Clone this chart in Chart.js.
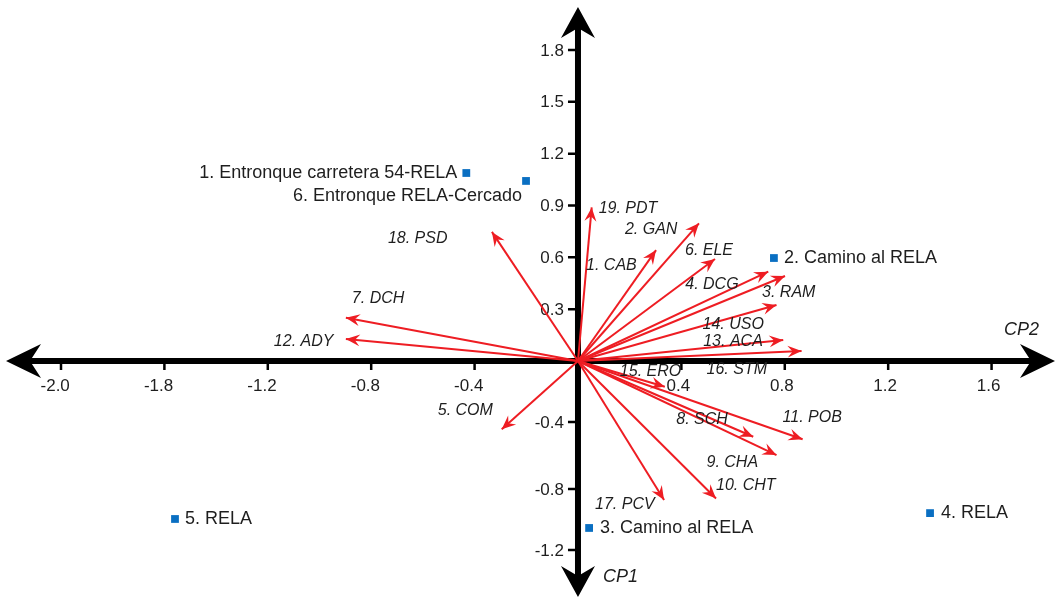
<!DOCTYPE html>
<html>
<head>
<meta charset="utf-8">
<script src="https://cdn.jsdelivr.net/npm/chart.js@4.4.1/dist/chart.umd.min.js"></script>
<style>
  html, body { margin: 0; padding: 0; background: #fff; }
  #wrap { width: 1058px; height: 599px; }
</style>
</head>
<body>
<div id="wrap"><canvas id="biplot"></canvas></div>
<script>
// sites (blue squares)
const siteNames = ["1. Entronque carretera 54-RELA", "6. Entronque RELA-Cercado", "2. Camino al RELA", "3. Camino al RELA", "4. RELA", "5. RELA"];
const siteX = [-0.432, -0.201, 0.758, 0.043, 1.362, -1.559];
const siteY = [1.088, 1.042, 0.596, -0.966, -0.880, -0.914];

// variables (red vectors)
const varNames = ["19. PDT", "2. GAN", "1. CAB", "6. ELE", "4. DCG", "3. RAM", "14. USO", "13. ACA", "16. STM", "15. ERO",
  "8. SCH", "11. POB", "9. CHA", "10. CHT", "17. PCV", "7. DCH", "12. ADY", "5. COM", "18. PSD"];
const varX = [0.053, 0.468, 0.302, 0.530, 0.736, 0.801, 0.768, 0.794, 0.865, 0.336,
  0.678, 0.869, 0.768, 0.534, 0.333, -0.898, -0.898, -0.295, -0.333];
const varY = [0.889, 0.797, 0.642, 0.590, 0.517, 0.492, 0.324, 0.122, 0.058, -0.149,
  -0.438, -0.453, -0.544, -0.795, -0.804, 0.251, 0.127, -0.395, 0.747];

// axis ticks (labels as printed in the original)
const xTickValues = [-2.0, -1.6, -1.2, -0.8, -0.4, 0.4, 0.8, 1.2, 1.6];
const xTickLabels = ["-2.0", "-1.8", "-1.2", "-0.8", "-0.4", "0.4", "0.8", "1.2", "1.6"];
const yTickValues = [-1.094, -0.741, -0.353, 0.3, 0.6, 0.9, 1.2, 1.5, 1.8];
const yTickLabels = ["-1.2", "-0.8", "-0.4", "0.3", "0.6", "0.9", "1.2", "1.5", "1.8"];

// label placement, pixel offsets from the mark
const siteLabelPos = [[-9, 0, "right"], [-4, 15, "right"], [10, 0, "left"], [11, 0, "left"], [11, 0, "left"], [10, 0, "left"]];
const varLabelPos = [[7, 1], [-74, 6], [-70, 15], [-30, -9], [-83, 13], [-23, 17], [-74, 20], [-80, 2], [-95, 19], [-45, -15],
  [-77, -17], [-20, -22], [-70, 8], [0, -13], [-69, 5], [6, -19], [-72, 2], [-64, -19], [-104, 7]];

const RED = "#ee1d23";
const BLUE = "#0a6fc2";
const TEXT = "#1e1e1e";

function stealth(ctx, tipX, tipY, angle, len, half, notch) {
  ctx.save();
  ctx.translate(tipX, tipY);
  ctx.rotate(angle);
  ctx.beginPath();
  ctx.moveTo(0, 0);
  ctx.lineTo(-len, -half);
  ctx.lineTo(-notch, 0);
  ctx.lineTo(-len, half);
  ctx.closePath();
  ctx.fill();
  ctx.restore();
}

const biplotPlugin = {
  id: "biplot",
  beforeDatasetsDraw(chart) {
    const { ctx, chartArea: a, scales: { x, y } } = chart;
    const ox = x.getPixelForValue(0);
    const oy = y.getPixelForValue(0);
    ctx.save();
    ctx.fillStyle = "#000";
    ctx.strokeStyle = "#000";
    ctx.lineWidth = 6;
    ctx.beginPath();
    ctx.moveTo(a.left + 25, oy);
    ctx.lineTo(a.right - 25, oy);
    ctx.moveTo(ox, a.top + 22);
    ctx.lineTo(ox, a.bottom - 22);
    ctx.stroke();
    stealth(ctx, a.left + 6, oy, Math.PI, 35, 17, 24);
    stealth(ctx, a.right - 3, oy, 0, 35, 17, 24);
    stealth(ctx, ox, a.top + 7, -Math.PI / 2, 31, 17, 21);
    stealth(ctx, ox, a.bottom - 2, Math.PI / 2, 31, 17, 21);

    // tick marks
    ctx.lineWidth = 2.5;
    ctx.beginPath();
    xTickValues.forEach((v) => {
      const px = x.getPixelForValue(v);
      ctx.moveTo(px, oy);
      ctx.lineTo(px, oy + 9);
    });
    yTickValues.forEach((v) => {
      const py = y.getPixelForValue(v);
      ctx.moveTo(ox, py);
      ctx.lineTo(ox - 10, py);
    });
    ctx.stroke();

    ctx.fillStyle = TEXT;
    ctx.font = '17px "Liberation Sans", Arial, sans-serif';
    ctx.textBaseline = "middle";
    ctx.textAlign = "right";
    xTickValues.forEach((v, i) => {
      // the unsigned part sits centred just left of the tick, the minus hangs before it
      const w = ctx.measureText(xTickLabels[i].replace("-", "")).width;
      ctx.fillText(xTickLabels[i], x.getPixelForValue(v) - 3 + w / 2, oy + 25);
    });
    yTickValues.forEach((v, i) => {
      ctx.fillText(yTickLabels[i], ox - 14, y.getPixelForValue(v) + 1);
    });

    ctx.font = 'italic 18px "Liberation Sans", Arial, sans-serif';
    ctx.textAlign = "left";
    ctx.fillText("CP2", a.right - 54, oy - 31);
    ctx.fillText("CP1", ox + 25, a.bottom - 22);
    ctx.restore();
  },
  afterDatasetsDraw(chart) {
    const { ctx, scales: { x, y } } = chart;
    const ox = x.getPixelForValue(0);
    const oy = y.getPixelForValue(0);
    ctx.save();
    ctx.fillStyle = RED;
    varX.forEach((vx, i) => {
      const px = x.getPixelForValue(vx);
      const py = y.getPixelForValue(varY[i]);
      stealth(ctx, px, py, Math.atan2(py - oy, px - ox), 14, 6, 9);
    });
    ctx.fillStyle = TEXT;
    ctx.textBaseline = "middle";
    ctx.textAlign = "left";
    ctx.font = 'italic 16px "Liberation Sans", Arial, sans-serif';
    varNames.forEach((name, i) => {
      const px = x.getPixelForValue(varX[i]);
      const py = y.getPixelForValue(varY[i]);
      ctx.fillText(name, px + varLabelPos[i][0], py + varLabelPos[i][1]);
    });
    ctx.font = '18px "Liberation Sans", Arial, sans-serif';
    siteNames.forEach((name, i) => {
      const px = x.getPixelForValue(siteX[i]);
      const py = y.getPixelForValue(siteY[i]);
      ctx.textAlign = siteLabelPos[i][2];
      ctx.fillText(name, px + siteLabelPos[i][0], py + siteLabelPos[i][1]);
    });
    ctx.restore();
  },
};

const vectorDatasets = varNames.map((name, i) => ({
  label: name,
  data: [{ x: 0, y: 0 }, { x: varX[i], y: varY[i] }],
  showLine: true,
  borderColor: RED,
  borderWidth: 2,
  pointRadius: 0,
  order: 2,
}));

new Chart(document.getElementById("biplot"), {
  type: "scatter",
  data: {
    datasets: [
      {
        label: "Sitios",
        data: siteX.map((v, i) => ({ x: v, y: siteY[i] })),
        pointStyle: "rect",
        pointRadius: 5.5,
        backgroundColor: BLUE,
        borderColor: BLUE,
        borderWidth: 0,
        order: 1,
      },
      ...vectorDatasets,
    ],
  },
  options: {
    responsive: true,
    maintainAspectRatio: false,
    animation: false,
    layout: { padding: 0, autoPadding: false },
    plugins: { legend: { display: false }, tooltip: { enabled: false } },
    scales: {
      x: { type: "linear", min: -2.236, max: 1.857, display: false },
      y: { type: "linear", min: -1.377, max: 2.089, display: false },
    },
  },
  plugins: [biplotPlugin],
});
</script>
</body>
</html>
